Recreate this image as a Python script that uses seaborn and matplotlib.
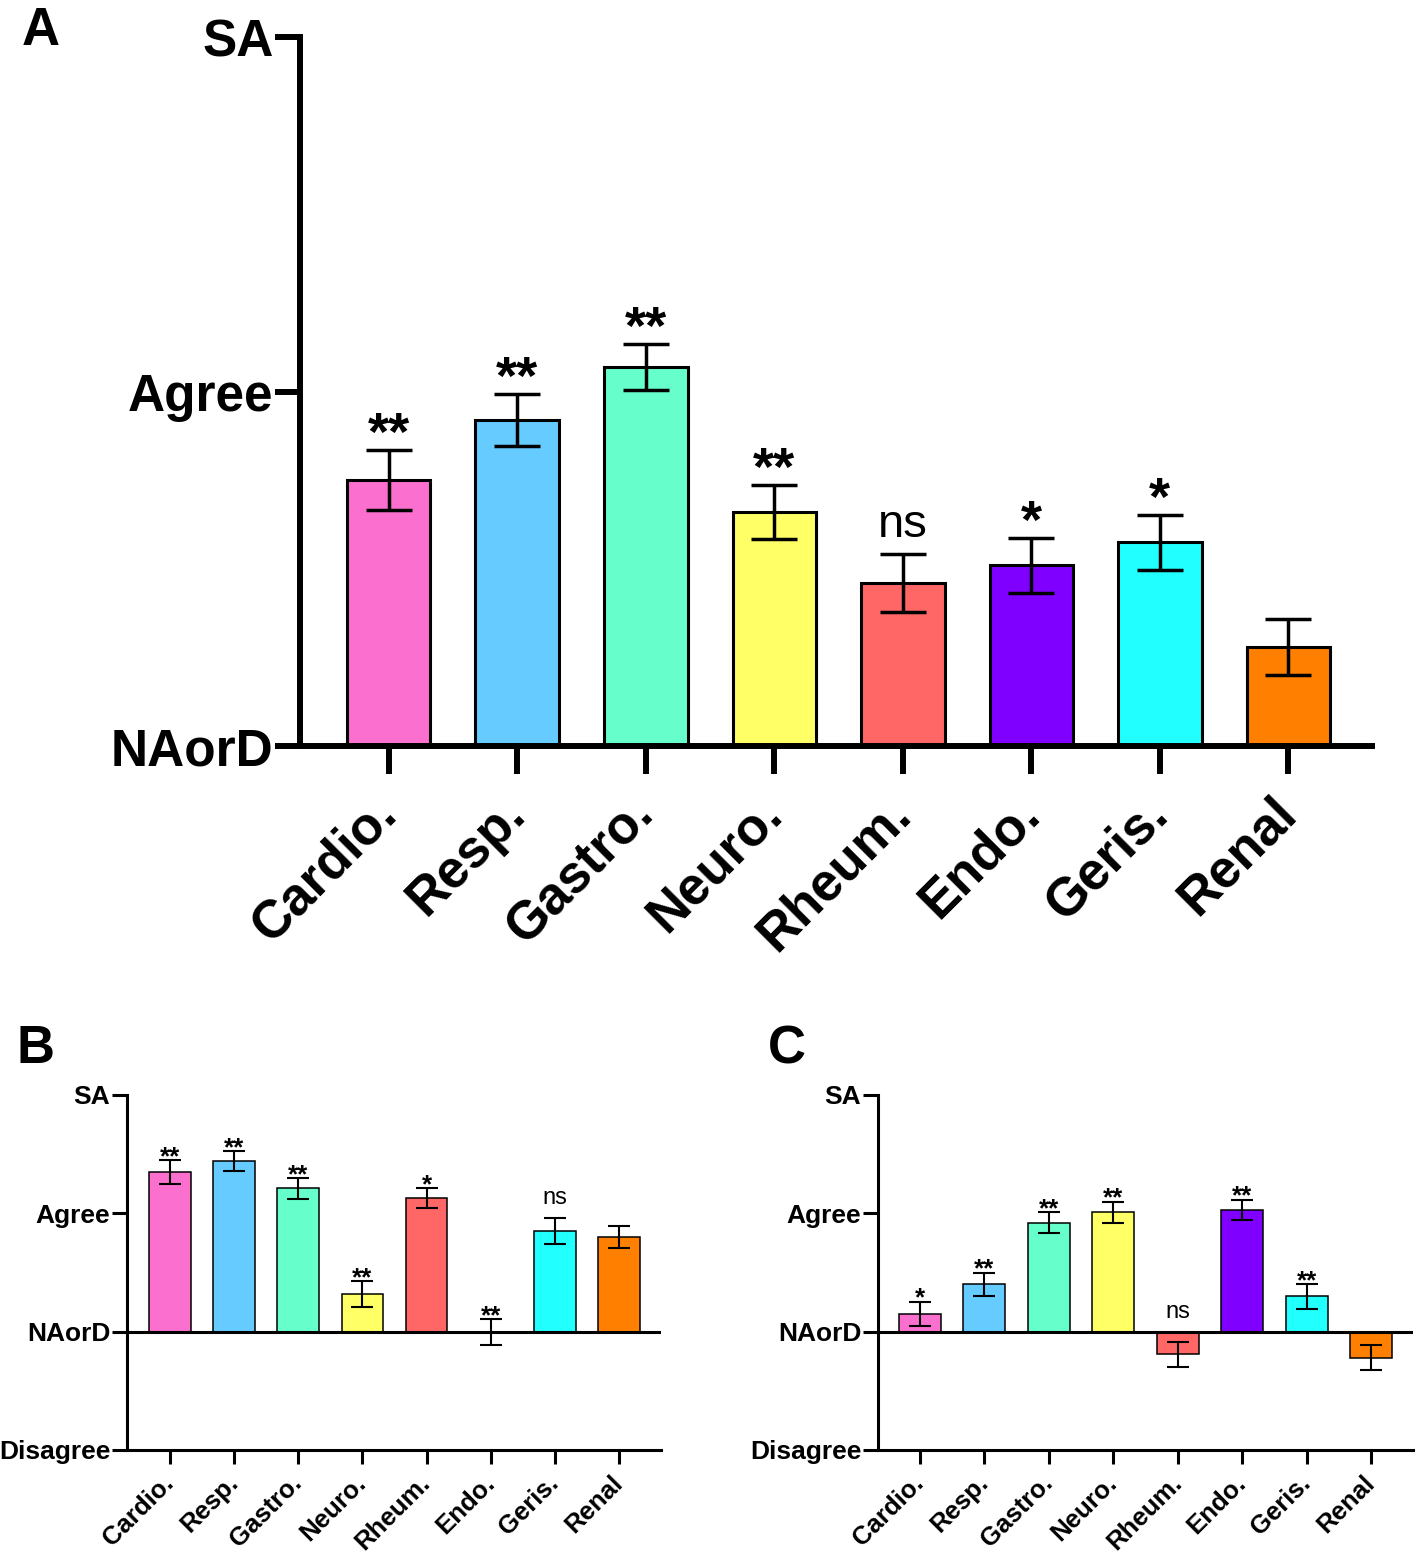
import numpy as np
import pandas as pd
import matplotlib
matplotlib.use("Agg")
import matplotlib.pyplot as plt
import seaborn as sns

sns.set_style("white")
plt.rcParams['font.family'] = ['Liberation Sans', 'DejaVu Sans']
plt.rcParams['text.color'] = 'black'
plt.rcParams['xtick.color'] = 'black'
plt.rcParams['ytick.color'] = 'black'

categories = ['Cardio.', 'Resp.', 'Gastro.', 'Neuro.', 'Rheum.', 'Endo.', 'Geris.', 'Renal']
colors = ['#FB6FCF', '#66CCFF', '#66FFCC', '#FFFF66', '#FF6666', '#7F00FF', '#22FFFF', '#FF8000']

# panel A
a_mean = [0.75, 0.92, 1.07, 0.66, 0.46, 0.51, 0.575, 0.28]
a_err = [0.084, 0.074, 0.065, 0.076, 0.083, 0.078, 0.078, 0.079]
a_sig = ['**', '**', '**', '**', 'ns', '*', '*', '']

# panel B
b_mean = [1.35, 1.44, 1.21, 0.32, 1.13, 0.0, 0.85, 0.80]
b_err = [0.10, 0.083, 0.09, 0.11, 0.087, 0.11, 0.11, 0.096]
b_sig = ['**', '**', '**', '**', '*', '**', 'ns', '']

# panel C
c_mean = [0.15, 0.40, 0.92, 1.01, -0.19, 1.03, 0.30, -0.22]
c_err = [0.104, 0.10, 0.09, 0.09, 0.105, 0.086, 0.105, 0.107]
c_sig = ['*', '**', '**', '**', 'ns', '**', '**', '']


def panel(ax, mean, err, sig, big):
    df = pd.DataFrame({'cat': categories, 'val': mean})
    if big:
        s = dict(edge=2.2, elw=2.5, cap=16.5, spine=4.3, yt=18, xt=20, xpad=23,
                 ylab=37, xlab=38, star=39, ns=34, sdy=0, nsdy=12)
    else:
        s = dict(edge=1.1, elw=1.5, cap=8, spine=2.2, yt=11, xt=10, xpad=11,
                 ylab=19, xlab=18.5, star=18.5, ns=17, sdy=-3, nsdy=10)
    sns.barplot(data=df, x='cat', y='val', hue='cat', palette=colors, legend=False,
                saturation=1, width=0.65, edgecolor='black', linewidth=s['edge'], ax=ax)
    x = np.arange(len(categories))
    ax.errorbar(x, mean, yerr=err, fmt='none', ecolor='black', elinewidth=s['elw'],
                capsize=s['cap'], capthick=s['elw'], zorder=4)
    for xi, m, e, t in zip(x, mean, err, sig):
        if not t:
            continue
        top = max(m + e, 0)
        if t == 'ns':
            ax.annotate(t, (xi, top), xytext=(0, s['nsdy']), textcoords='offset points',
                        ha='center', va='baseline', fontsize=s['ns'])
        else:
            ax.annotate(t, (xi, top), xytext=(0, s['sdy']), textcoords='offset points',
                        ha='center', va='baseline', fontsize=s['star'], fontweight='bold')
    for sp in ['top', 'right']:
        ax.spines[sp].set_visible(False)
    for sp in ['left', 'bottom']:
        ax.spines[sp].set_linewidth(s['spine'])
        ax.spines[sp].set_color('black')
    ax.set_xlabel('')
    ax.set_ylabel('')
    ax.tick_params(axis='y', length=s['yt'], width=s['spine'], pad=1, left=True,
                   labelsize=s['ylab'])
    ax.tick_params(axis='x', length=s['xt'], width=s['spine'], pad=s['xpad'], bottom=True,
                   labelsize=s['xlab'])
    for lab in ax.get_yticklabels() + ax.get_xticklabels():
        lab.set_fontweight('bold')
    plt.setp(ax.get_xticklabels(), rotation=45, ha='right', va='center',
             rotation_mode='anchor')
    return s


fig = plt.figure(figsize=(14.16, 15.6), dpi=100)

axA = fig.add_axes([300 / 1416, 1 - 746 / 1560, 1072 / 1416, 709 / 1560])
panel(axA, a_mean, a_err, a_sig, True)
axA.set_ylim(0, 2)
axA.set_xlim(-0.69, 7.65)
axA.set_yticks([0, 1, 2], ['NAorD', 'Agree', 'SA'])
for lab in axA.get_yticklabels():
    lab.set_fontweight('bold')

for left, right, mean, err, sig, xl in [
        (127, 661, b_mean, b_err, b_sig, (-0.67, 7.655)),
        (878, 1413, c_mean, c_err, c_sig, (-0.65, 7.65))]:
    ax = fig.add_axes([left / 1416, 1 - 1450 / 1560, (right - left) / 1416, 355 / 1560])
    s = panel(ax, mean, err, sig, False)
    ax.axhline(0, color='black', lw=s['spine'], zorder=3)
    ax.set_ylim(-1, 2)
    ax.set_xlim(*xl)
    ax.set_yticks([-1, 0, 1, 2], ['Disagree', 'NAorD', 'Agree', 'SA'])
    for lab in ax.get_yticklabels():
        lab.set_fontweight('bold')

fig.text(22 / 1416, 1 - 45 / 1560, 'A', fontsize=38, fontweight='bold', va='baseline')
fig.text(17 / 1416, 1 - 1063 / 1560, 'B', fontsize=38, fontweight='bold', va='baseline')
fig.text(768 / 1416, 1 - 1063 / 1560, 'C', fontsize=38, fontweight='bold', va='baseline')

fig.savefig('out.png', dpi=100)
